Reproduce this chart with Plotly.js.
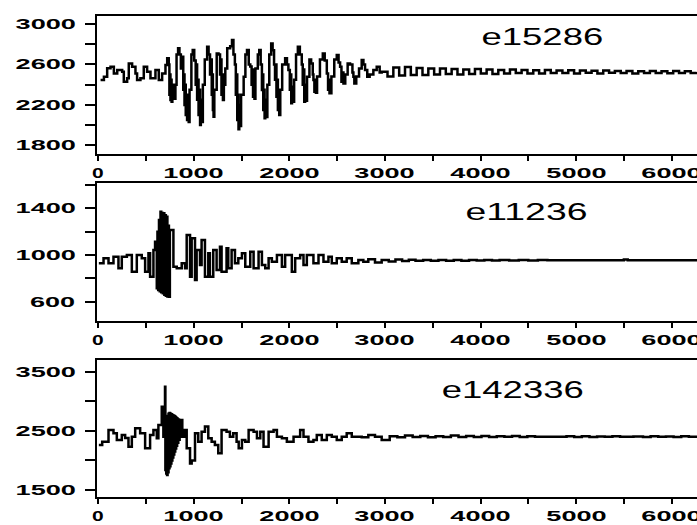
<!DOCTYPE html>
<html>
<head>
<meta charset="utf-8">
<script src="https://cdn.plot.ly/plotly-3.0.1.min.js"></script>
<style>
html,body{margin:0;padding:0;background:#fff;overflow:hidden;}
#chart{width:697px;height:525px;}
</style>
</head>
<body>
<div id="chart"></div>
<script>
// ---- data (turning points) ----
var labels = ["e15286", "e11236", "e142336"];

var x1 = [25,60,94,129,164,199,251,268,303,320,355,390,407,442,477,512,547,599,634,669,704,
722,738,745,750,756,762,768,776,790,808,
820,836,850,865,878,890,897,903,910,916,924,930,938,947,956,
975,989,1005,1020,1028,1035,1042,1050,1058,1066,1074,1080,1095,
1115,1140,1155,1170,1180,1188,1194,1200,1207,1215,
1240,1259,1275,1283,1290,1298,1305,1315,1330,
1350,1381,1400,1415,1430,1440,1448,1455,1462,1468,1476,1485,1495,
1522,1540,1557,1575,1591,1605,1612,1620,1628,1635,1645,
1670,1685,1700,1713,1720,1727,1734,1741,1748,1755,1770,
1790,1810,1825,1840,1850,1858,1865,1872,1880,1888,1894,1905,
1925,1956,1975,1990,2005,2012,2020,2028,2035,2050,
2070,2089,2110,2130,2140,2148,2156,2165,2172,2185,
2210,2228,2245,2252,2262,2270,2278,2290,
2320,2350,2370,2392,2405,2413,2420,2440,
2470,2496,2515,2531,2545,2555,2566,2585,
2610,2635,2660,2670,2680,2700,2729,2757,2775,2792,2815,2840,2879,2914,2945,2966,
3027,3088,3149,3210,3271,3332,3393,3454,3515,3576,3637,3698,3759,3820,3881,3942,4003,4064,4125,4186,4247,4308,4369,4430,4491,4552,4613,4674,4735,4796,4857,4918,4979,5040,5101,5162,5223,5284,5345,5406,5467,5528,5589,5650,5711,5772,5833,5894,5955,6016,6077,6138,6199,6260];
var y1 = [2446,2479,2562,2578,2512,2545,2529,2430,2463,2611,2578,2512,2446,2463,2578,2529,2463,2545,2446,2512,2595,
2661,2600,2300,2500,2248,2450,2230,2400,2260,2400,
2700,2760,2700,2560,2677,2350,2500,2200,2400,2100,2300,2050,2250,2030,2350,
2700,2743,2640,2400,2600,2250,2450,2100,2350,2001,2250,2030,2400,
2650,2776,2700,2500,2650,2300,2500,2150,2083,2350,
2710,2700,2500,2650,2300,2500,2248,2400,2560,
2760,2780,2842,2700,2600,2300,2500,2050,2300,1960,2200,1990,2300,
2479,2700,2743,2600,2580,2400,2550,2281,2450,2260,2560,
2700,2743,2600,2347,2500,2150,2350,2067,2250,2080,2400,
2700,2809,2740,2600,2450,2600,2281,2450,2150,2300,2100,2350,
2600,2661,2600,2545,2350,2500,2216,2380,2230,2450,
2700,2776,2700,2600,2400,2550,2230,2400,2240,2479,
2650,2611,2500,2446,2331,2450,2320,2480,
2650,2710,2640,2512,2350,2450,2315,2480,
2650,2693,2620,2578,2430,2520,2413,2500,
2611,2600,2520,2479,2413,2480,2560,2644,2600,2545,2479,2500,2545,2578,2520,2529,
2480,2570,2490,2575,2495,2565,2495,2560,2500,2560,2505,2555,2500,2550,2505,2555,2510,2550,2505,2545,2510,2550,2515,2545,2512,2542,2510,2545,2515,2540,2515,2542,2512,2540,2518,2538,2512,2540,2518,2536,2515,2535,2512,2532,2516,2535,2515,2532,2514,2535,2516,2532,2515,2525];

var x2 = [7,56,108,160,212,247,300,352,404,456,491,526,543,578,595,613,620,628,636,644,652,660,668,676,684,692,700,708,716,724,732,740,750,769,787,822,874,909,926,961,978,1013,1030,1065,1082,1117,1152,1169,1204,1239,1274,1291,1343,1361,1396,1431,1466,1504,1539,1591,1626,1678,1713,1748,1783,1817,1870,1922,1956,2026,2061,2113,2148,2183,2252,2305,2357,2409,2444,2496,2548,2600,2653,2722,2774,2826,2896,2966,
3040,3110,3180,3250,3320,3400,3480,3560,3640,3720,3800,3880,3960,4040,4120,4200,4300,4400,4500,4600,4700,4800,5000,5200,5480,5500,5540,5800,6000,6265];
var y2 = [929,972,929,985,886,985,1000,857,1000,972,857,1015,814,1043,1114,715,1200,700,1300,690,1371,680,1360,672,1357,660,1340,650,1328,645,1250,643,1214,1214,900,886,929,886,1171,814,1143,786,1043,914,1128,814,1014,814,1043,872,1071,857,1057,886,1043,929,972,1014,900,1028,886,1028,914,886,972,943,1000,900,1000,857,972,1000,914,1000,929,1000,943,985,929,972,943,972,929,957,943,964,936,957,
945,962,948,960,950,958,950,957,950,958,951,957,952,957,952,956,952,956,953,956,954,955,955,955,955,962,955,955,955,955];

var x3 = [7,42,108,160,195,247,282,317,352,387,439,491,543,578,613,630,665,682,699,703,708,712,717,721,726,731,736,741,746,751,756,761,766,771,776,781,786,791,796,801,806,811,816,821,826,831,838,845,852,860,866,880,901,926,961,978,1013,1047,1082,1117,1152,1187,1221,1256,1291,1343,1378,1413,1448,1470,1504,1539,1574,1626,1661,1696,1730,1783,1835,1870,1922,1974,2044,2113,2148,2200,2252,2287,2339,2392,2444,2496,2548,2600,2653,2757,2826,2896,2966,
3050,3130,3210,3290,3370,3450,3530,3610,3690,3770,3850,3930,4010,4090,4170,4250,4330,4410,4490,4570,4650,4800,4900,4980,5060,5140,5220,5300,5380,5460,5600,5700,5780,5860,5940,6020,6100,6180,6265];
var y3 = [2262,2318,2515,2459,2346,2431,2380,2233,2402,2544,2459,2206,2431,2515,2374,2600,2909,2402,3247,1840,2600,1780,2700,1755,2750,1800,2790,1870,2800,1900,2790,1950,2780,2000,2770,2050,2760,2100,2750,2150,2740,2200,2720,2250,2710,2300,2690,2350,2680,2400,2685,2402,2515,2206,1950,2000,2459,2318,2487,2572,2374,2318,2262,2122,2515,2487,2402,2459,2318,2206,2346,2318,2515,2487,2374,2487,2233,2487,2515,2402,2374,2318,2402,2515,2402,2318,2346,2431,2346,2431,2402,2346,2402,2459,2402,2390,2431,2402,2346,
2410,2390,2420,2395,2415,2390,2410,2395,2420,2398,2412,2395,2415,2395,2410,2400,2412,2398,2408,2400,2402,2400,2410,2398,2408,2398,2405,2400,2408,2400,2403,2398,2408,2400,2405,2398,2408,2400,2405];

// tick labels
var xTickVals = [0,1000,2000,3000,4000,5000,6000];
var yTicks1 = [1800,2200,2600,3000];
var yTicks2 = [600,1000,1400];
var yTicks3 = [1500,2500,3500];

// ---- styling ----
var tickFont = {family: "Liberation Sans", size: 14, color: "#000", weight: "bold"};
function xax(anchor){
  return {
    anchor: anchor, domain: [0.1395, 1], range: [-10, 6265],
    showgrid: false, zeroline: false, showline: true, mirror: true,
    linecolor: "#000", linewidth: 2,
    ticks: "outside", ticklen: 5, tickwidth: 2, tickcolor: "#000",
    tick0: 0, dtick: 1000, showticklabels: false,
    minor: {dtick: 500, tick0: 0, ticks: "outside", ticklen: 5, tickwidth: 2, tickcolor: "#000", showgrid: false},
    fixedrange: true
  };
}
function yax(anchor, dom, rng, tick0, dtick, minor){
  return {
    anchor: anchor, domain: dom, range: rng,
    showgrid: false, zeroline: false, showline: true, mirror: false,
    linecolor: "#000", linewidth: 2,
    ticks: "outside", ticklen: 10, tickwidth: 2, tickcolor: "#000",
    tick0: tick0, dtick: dtick, showticklabels: false,
    minor: {dtick: minor, tick0: tick0, ticks: "outside", ticklen: 10, tickwidth: 2, tickcolor: "#000", showgrid: false},
    fixedrange: true
  };
}

var lineStyle = {color: "#000", width: 2.5, shape: "hv"};
var data = [
  {x: x1, y: y1, xaxis: "x", yaxis: "y", type: "scatter", mode: "lines", line: lineStyle, name: labels[0]},
  {x: x2, y: y2, xaxis: "x2", yaxis: "y2", type: "scatter", mode: "lines", line: lineStyle, name: labels[1]},
  {x: x3, y: y3, xaxis: "x3", yaxis: "y3", type: "scatter", mode: "lines", line: lineStyle, name: labels[2]}
];

var titleFont = {family: "Liberation Sans", size: 23, color: "#000"};
var annotations = [
  {text: labels[0], xref: "paper", yref: "paper", x: 0.779, y: 0.9295, showarrow: false, font: titleFont, xanchor: "center", yanchor: "middle"},
  {text: labels[1], xref: "paper", yref: "paper", x: 0.7556, y: 0.5968, showarrow: false, font: titleFont, xanchor: "center", yanchor: "middle"},
  {text: labels[2], xref: "paper", yref: "paper", x: 0.7355, y: 0.2571, showarrow: false, font: titleFont, xanchor: "center", yanchor: "middle"}
];
// axis tick labels, placed on the axes' own scales
[["x", "y"], ["x2", "y2"], ["x3", "y3"]].forEach(function(p){
  xTickVals.forEach(function(v){
    annotations.push({text: String(v), xref: p[0], yref: p[1] + " domain", x: v, y: 0,
      xanchor: "center", yanchor: "middle", yshift: -19, showarrow: false, font: tickFont});
  });
});
[["x", "y", yTicks1], ["x2", "y2", yTicks2], ["x3", "y3", yTicks3]].forEach(function(p){
  p[2].forEach(function(v){
    annotations.push({text: String(v), xref: p[0] + " domain", yref: p[1], x: 0, y: v,
      xanchor: "right", yanchor: "middle", align: "right", xshift: -19, showarrow: false, font: tickFont});
  });
});

var layout = {
  width: 697, height: 525,
  margin: {l: 0, r: 0, t: 0, b: 0},
  paper_bgcolor: "#fff", plot_bgcolor: "#fff",
  showlegend: false,
  xaxis: xax("y"),
  xaxis2: xax("y2"),
  xaxis3: xax("y3"),
  yaxis: yax("x", [0.7067, 0.9695], [1714, 3080], 1800, 400, 200),
  yaxis2: yax("x2", [0.3891, 0.6509], [437, 1614], 600, 400, 200),
  yaxis3: yax("x3", [0.0539, 0.3143], [1387, 3698], 1500, 1000, 500),
  annotations: annotations
};

// widen glyphs horizontally to the reference's per-character width
function stretchAll(){
  document.querySelectorAll("#chart .annotation").forEach(function(g){
    var idx = parseInt(g.getAttribute("data-index"), 10);
    var t = g.querySelector("text");
    if (!t) return;
    var cur = t.getAttribute("transform") || "";
    var mine = t.getAttribute("data-mytf");
    if (mine !== null && cur === mine) return;
    var w = t.getBBox().width;
    if (!(w > 0)) return;
    var n = (t.textContent || "").length;
    var perChar = idx < 3 ? 20.3 : (n === 1 ? 12 : 15.2);
    var k = (perChar * n) / w;
    var ax = parseFloat(t.getAttribute("x")) || 0;
    var anchor = t.getAttribute("text-anchor") || "start";
    var bb = t.getBBox();
    var px = anchor === "end" ? bb.x + bb.width : (anchor === "middle" ? bb.x + bb.width / 2 : bb.x);
    if (isNaN(px)) px = ax;
    var tf = cur + " translate(" + px + ",0) scale(" + k.toFixed(3) + ",1) translate(" + (-px) + ",0)";
    t.setAttribute("data-mytf", tf);
    t.setAttribute("transform", tf);
  });
}

var gd = document.getElementById("chart");
Plotly.newPlot(gd, data, layout, {staticPlot: true, displayModeBar: false}).then(function(){
  stretchAll();
  setTimeout(stretchAll, 100);
  setTimeout(stretchAll, 500);
});
</script>
</body>
</html>
